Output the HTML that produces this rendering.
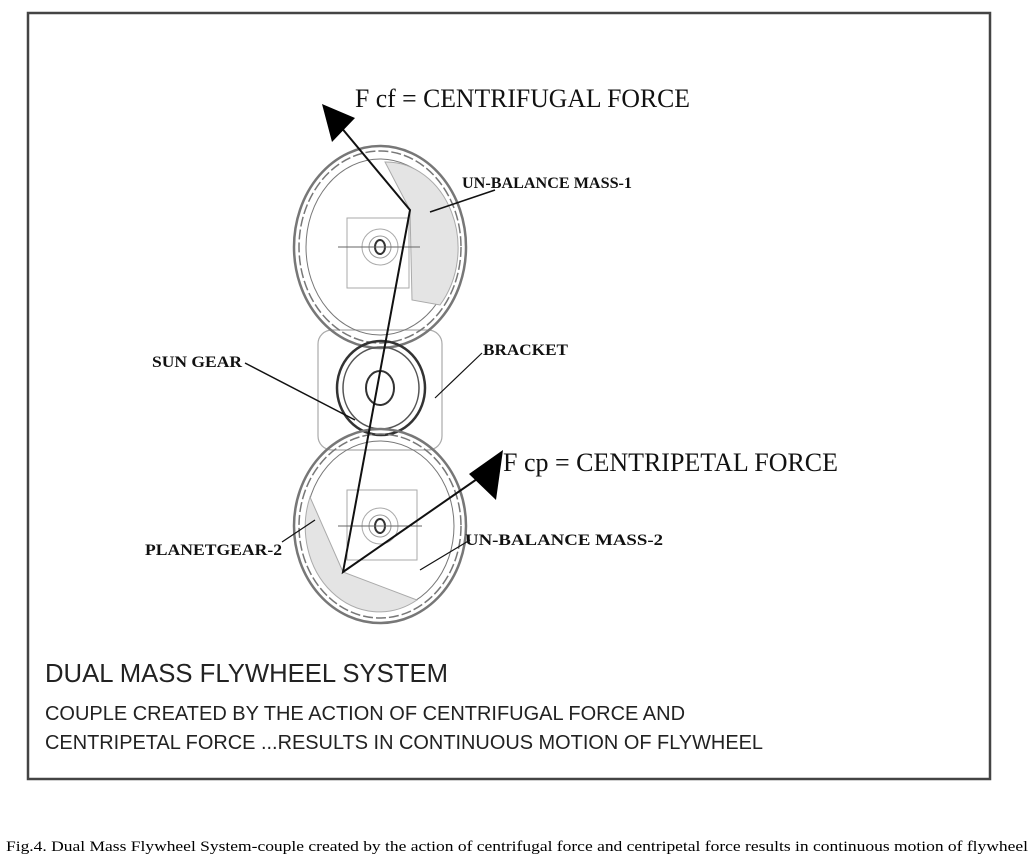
<!DOCTYPE html>
<html><head><meta charset="utf-8"><style>
body{margin:0;background:#fff;width:1034px;height:856px;overflow:hidden;}
svg{position:absolute;left:0;top:0}
</style></head><body>
<svg width="1034" height="856" viewBox="0 0 1034 856" font-family="Liberation Serif, serif">
<rect x="28" y="13" width="962" height="766" fill="none" stroke="#444" stroke-width="2.5"/>
<rect x="318" y="330" width="124" height="120" rx="14" fill="none" stroke="#aaa" stroke-width="1.2"/>
<g fill="none" stroke="#777">
<!-- top wheel -->
<ellipse cx="380" cy="247" rx="86" ry="101" stroke-width="2.5"/>
<ellipse cx="380" cy="247" rx="81" ry="96" stroke-width="1.5" stroke-dasharray="10 3"/>
<ellipse cx="380" cy="247" rx="74" ry="88"/>
<path d="M385 162 A72 86 0 0 1 440 305 L412 300 L410 210 Z" fill="#e4e4e4" stroke="#aaa"/>
<rect x="347" y="218" width="62" height="70" stroke="#aaa"/>
<circle cx="380" cy="247" r="18" stroke="#aaa"/>
<circle cx="380" cy="247" r="11" stroke="#999"/>
<ellipse cx="380" cy="247" rx="5" ry="7" stroke="#333" stroke-width="2"/>
<line x1="338" y1="247" x2="420" y2="247" stroke="#666"/>
<!-- sun gear -->
<ellipse cx="381" cy="388" rx="44" ry="47" stroke="#333" stroke-width="2.5"/>
<ellipse cx="381" cy="388" rx="38" ry="41" stroke="#555" stroke-width="1.5"/>
<ellipse cx="380" cy="388" rx="14" ry="17" stroke="#333" stroke-width="2"/>
<!-- bottom wheel -->
<ellipse cx="380" cy="526" rx="86" ry="97" stroke-width="2.5"/>
<ellipse cx="380" cy="526" rx="81" ry="92" stroke-width="1.5" stroke-dasharray="10 3"/>
<ellipse cx="380" cy="526" rx="74" ry="85"/>
<path d="M310 497 A74 85 0 0 0 417 600 L343 572 Z" fill="#e4e4e4" stroke="#aaa"/>
<rect x="347" y="490" width="70" height="70" stroke="#aaa"/>
<circle cx="380" cy="526" r="18" stroke="#aaa"/>
<circle cx="380" cy="526" r="11" stroke="#999"/>
<ellipse cx="380" cy="526" rx="5" ry="7" stroke="#333" stroke-width="2"/>
<line x1="338" y1="526" x2="422" y2="526" stroke="#666"/>
</g>
<g stroke="#111" stroke-width="2" fill="none">
<polyline points="335,120 410,210 343,572 490,470"/>
<line x1="430" y1="212" x2="495" y2="190" stroke-width="1.5"/>
<line x1="245" y1="363" x2="355" y2="420" stroke-width="1.5"/>
<line x1="435" y1="398" x2="482" y2="353" stroke-width="1.2"/>
<line x1="282" y1="542" x2="315" y2="520" stroke-width="1.2"/>
<line x1="420" y1="570" x2="470" y2="540" stroke-width="1.2"/>
</g>
<polygon points="322,104 355,118 332,142" fill="#000"/>
<polygon points="503,450 496,500 469,474" fill="#000"/>
<g fill="#111">
<text x="355" y="107" font-size="26" textLength="335" lengthAdjust="spacingAndGlyphs">F cf = CENTRIFUGAL FORCE</text>
<text x="462" y="188" font-size="16" font-weight="bold" textLength="170" lengthAdjust="spacingAndGlyphs">UN-BALANCE MASS-1</text>
<text x="483" y="355" font-size="16" font-weight="bold" textLength="85" lengthAdjust="spacingAndGlyphs">BRACKET</text>
<text x="152" y="367" font-size="16" font-weight="bold" textLength="90" lengthAdjust="spacingAndGlyphs">SUN GEAR</text>
<text x="503" y="471" font-size="26" textLength="335" lengthAdjust="spacingAndGlyphs">F cp = CENTRIPETAL FORCE</text>
<text x="465" y="545" font-size="16" font-weight="bold" textLength="198" lengthAdjust="spacingAndGlyphs">UN-BALANCE MASS-2</text>
<text x="145" y="555" font-size="16" font-weight="bold" textLength="137" lengthAdjust="spacingAndGlyphs">PLANETGEAR-2</text>
</g>
<g fill="#222" font-family="Liberation Sans, sans-serif">
<text x="45" y="682" font-size="26" textLength="403" lengthAdjust="spacingAndGlyphs">DUAL MASS FLYWHEEL SYSTEM</text>
<text x="45" y="720" font-size="20" textLength="640" lengthAdjust="spacingAndGlyphs">COUPLE CREATED BY THE ACTION OF CENTRIFUGAL FORCE AND</text>
<text x="45" y="749" font-size="20" textLength="718" lengthAdjust="spacingAndGlyphs">CENTRIPETAL FORCE ...RESULTS IN CONTINUOUS MOTION OF FLYWHEEL</text>
</g>
<text x="6" y="851" font-size="15" fill="#000" textLength="1022" lengthAdjust="spacingAndGlyphs">Fig.4. Dual Mass Flywheel System-couple created by the action of centrifugal force and centripetal force results in continuous motion of flywheel</text>
</svg>
</body></html>
